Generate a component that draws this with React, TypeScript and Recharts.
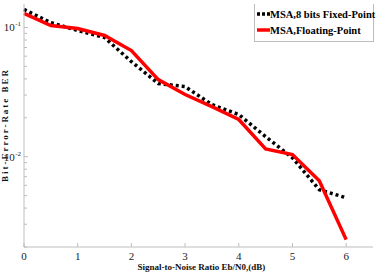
import React from 'react';
import { LineChart, Line, XAxis, YAxis } from 'recharts';

// Eb/N0 sweep (dB)
const snr = [0, 0.5, 1, 1.5, 2, 2.5, 3, 3.5, 4, 4.5, 5, 5.5, 6];
// BER, MSA decoder with 8-bit fixed-point arithmetic
const berFixed8 = [0.138, 0.109, 0.0948, 0.0836, 0.0545, 0.0368, 0.0349, 0.0253, 0.0212, 0.0143, 0.0098, 0.00555, 0.00481];
// BER, MSA decoder with floating-point arithmetic
const berFloat = [0.1285, 0.1036, 0.0983, 0.0867, 0.0663, 0.0395, 0.0303, 0.0244, 0.0194, 0.0115, 0.0104, 0.00652, 0.00228];

const xTicks = [0, 1, 2, 3, 4, 5, 6];
const yMajorTicks = [0.01, 0.1];
const yMajorExponents = ['-2', '-1'];
const yMinorTicks = [0.002, 0.003, 0.004, 0.005, 0.006, 0.007, 0.008, 0.009, 0.02, 0.03, 0.04, 0.05, 0.06, 0.07, 0.08, 0.09];
const yAllTicks = [...yMinorTicks, ...yMajorTicks].sort((a, b) => a - b);

const seriesNames = ['MSA,8 bits Fixed-Point', 'MSA,Floating-Point'];

const data = snr.map((s, i) => ({ snr: s, fixed: berFixed8[i], float: berFloat[i] }));

const FONT = '"Liberation Serif", "Times New Roman", serif';
const FRAME = '#bdbdbd';

const BottomTick = (props: any) => {
  const { x, y, payload } = props;
  return (
    <g>
      <line x1={x} x2={x} y1={y} y2={y - 4} stroke={FRAME} strokeWidth={1} />
      <text x={x} y={y + 13} textAnchor="middle" fontFamily={FONT} fontSize={11} fill="#222">
        {payload.value}
      </text>
    </g>
  );
};

const TopTick = (props: any) => {
  const { x, y } = props;
  return <line x1={x} x2={x} y1={y} y2={y + 4} stroke={FRAME} strokeWidth={1} />;
};

const LeftTick = (props: any) => {
  const { x, y, payload } = props;
  const idx = yMajorTicks.indexOf(payload.value);
  const major = idx >= 0;
  return (
    <g>
      <line x1={x} x2={x + (major ? 4 : 3)} y1={y} y2={y} stroke={FRAME} strokeWidth={1} />
      {major && (
        <text x={x - 3} y={y + 4} textAnchor="end" fontFamily={FONT} fontSize={11} fill="#222">
          10
          <tspan dx={0.5} dy={-5} fontSize={7}>
            {yMajorExponents[idx]}
          </tspan>
        </text>
      )}
    </g>
  );
};

const RightTick = (props: any) => {
  const { x, y, payload } = props;
  const major = yMajorTicks.indexOf(payload.value) >= 0;
  return <line x1={x} x2={x - (major ? 4 : 3)} y1={y} y2={y} stroke={FRAME} strokeWidth={1} />;
};

const XTitle = (props: any) => {
  const vb = props.viewBox || {};
  return (
    <text
      x={vb.x + vb.width / 2 + 3}
      y={vb.y + 23}
      textAnchor="middle"
      fontFamily={FONT}
      fontWeight="bold"
      fontSize={9}
      fill="#111"
    >
      Signal-to-Noise Ratio Eb/N0,(dB)
    </text>
  );
};

const YTitle = () => (
  <text
    x={0}
    y={0}
    transform="translate(8,125) rotate(-90)"
    textAnchor="middle"
    fontFamily={FONT}
    fontWeight="bold"
    fontSize={9}
    letterSpacing={2}
    fill="#111"
  >
    Bit-Error-Rate BER
  </text>
);

export default function App() {
  return (
    <div style={{ position: 'absolute', left: 0, top: 0, width: 378, height: 275, background: '#fff' }}>
      <LineChart
        width={378}
        height={275}
        data={data}
        margin={{ top: 4, right: 5, left: 0, bottom: 0 }}
      >
        <XAxis
          xAxisId="bottom"
          dataKey="snr"
          type="number"
          domain={[0, 6.5]}
          ticks={xTicks}
          height={28}
          tickSize={0}
          tickMargin={0}
          tickLine={false}
          axisLine={{ stroke: FRAME }}
          tick={<BottomTick />}
          label={<XTitle />}
          interval={0}
        />
        <XAxis
          xAxisId="top"
          orientation="top"
          dataKey="snr"
          type="number"
          domain={[0, 6.5]}
          ticks={xTicks}
          height={0}
          tickSize={0}
          tickMargin={0}
          tickLine={false}
          axisLine={{ stroke: FRAME }}
          tick={<TopTick />}
          interval={0}
        />
        <YAxis
          yAxisId="left"
          scale="log"
          type="number"
          domain={[0.002, 0.152]}
          allowDataOverflow
          ticks={yAllTicks}
          width={24}
          tickSize={0}
          tickMargin={0}
          tickLine={false}
          axisLine={{ stroke: FRAME }}
          tick={<LeftTick />}
          label={<YTitle />}
          interval={0}
        />
        <YAxis
          yAxisId="right"
          orientation="right"
          scale="log"
          type="number"
          domain={[0.002, 0.152]}
          allowDataOverflow
          ticks={yAllTicks}
          width={0}
          tickSize={0}
          tickMargin={0}
          tickLine={false}
          axisLine={{ stroke: FRAME }}
          tick={<RightTick />}
          interval={0}
        />
        <Line
          xAxisId="bottom"
          yAxisId="left"
          dataKey="fixed"
          name={seriesNames[0]}
          stroke="#000"
          strokeWidth={3.5}
          strokeDasharray="3 3"
          dot={false}
          isAnimationActive={false}
        />
        <Line
          xAxisId="bottom"
          yAxisId="left"
          dataKey="float"
          name={seriesNames[1]}
          stroke="#ff0000"
          strokeWidth={3.5}
          dot={false}
          isAnimationActive={false}
        />
      </LineChart>
      <div
        style={{
          position: 'absolute',
          left: 254,
          top: 4,
          width: 118,
          height: 37,
          background: '#fff',
          border: `1px solid ${FRAME}`,
          borderTop: 'none',
          fontFamily: FONT,
          fontWeight: 'bold',
          fontSize: 10.5,
          color: '#000',
        }}
      >
        {seriesNames.map((n, i) => (
          <div
            key={n}
            style={{ position: 'absolute', left: 2, top: i === 0 ? 4 : 20, display: 'flex', alignItems: 'center', whiteSpace: 'nowrap' }}
          >
            <svg width={13} height={12} style={{ display: 'block' }}>
              <line
                x1={0}
                x2={13}
                y1={6}
                y2={6}
                stroke={i === 0 ? '#000' : '#ff0000'}
                strokeWidth={3.5}
                strokeDasharray={i === 0 ? '3 2' : undefined}
              />
            </svg>
            <span>{n}</span>
          </div>
        ))}
      </div>
    </div>
  );
}
